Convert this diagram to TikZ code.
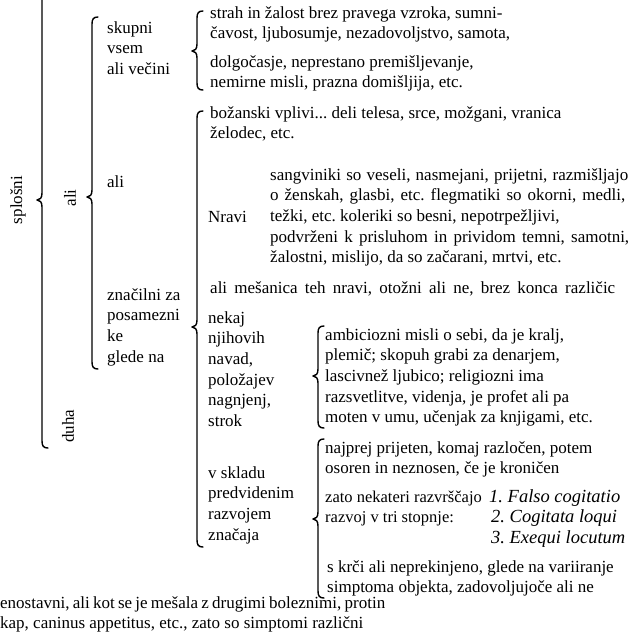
\documentclass[tikz,border=0pt]{standalone}
\usepackage{fontspec}
\setmainfont{Liberation Serif}
\frenchspacing
\newcommand\blk[1]{\vtop{\baselineskip=20.7pt\lineskiplimit=-30pt\lineskip=0pt #1}}
\newcommand\lyn[1]{\hbox{#1}}
\newcommand\lw[2]{\hbox to #1pt{\spaceskip=0.25em plus 0.6em minus 0.12em\relax #2}}
% x, top, tip, bottom
\newcommand\mybrace[4]{%
  \draw[bracestyle] (#1+6,#2) .. controls (#1+1.5,#2) and (#1,#2+2) .. (#1,#2+7)
    -- (#1,#3-7) .. controls (#1,#3-2) and (#1-2,#3) .. (#1-5,#3)
    .. controls (#1-2,#3) and (#1,#3+2) .. (#1,#3+7)
    -- (#1,#4-7) .. controls (#1,#4-2) and (#1+1.5,#4) .. (#1+6,#4);}
\tikzset{
  bracestyle/.style={line width=1.4pt, line cap=round, line join=round, black},
  txt/.style={anchor=base west, inner sep=0pt, font=\fontsize{17}{20.7}\selectfont},
  rot/.style={inner sep=0pt, rotate=90, font=\fontsize{17}{20.7}\selectfont}
}
\begin{document}
\begin{tikzpicture}[x=1pt,y=-1pt]
\useasboundingbox (0,0) rectangle (634,632);
\clip (0,0) rectangle (634,632);
% braces
\mybrace{42}{-20}{200}{448}
\mybrace{92}{17}{197}{369}
\mybrace{197}{11}{51}{90}
\mybrace{197}{111}{327}{547}
\mybrace{318}{326}{376}{428}
\mybrace{318}{439}{519}{598}
% rotated labels
\node[rot] (r1) at (18,200) {splošni};
\node[rot] (r2) at (70,198) {ali};
\node[rot] (r3) at (68,426) {duha};
% column 1
\node[txt] (s1) at (107,33) {\blk{\lyn{skupni}\lyn{vsem}\lyn{ali večini}}};
\node[txt] (s2) at (107,187) {ali};
\node[txt] (s3) at (107,300) {\blk{\lyn{značilni za}\lyn{posamezni}\lyn{ke}\lyn{glede na}}};
% column 2
\node[txt] (t1) at (210,18) {\blk{\lyn{strah in žalost brez pravega vzroka, sumni-}\lyn{čavost, ljubosumje, nezadovoljstvo, samota,}}};
\node[txt] (t2) at (210,67) {\blk{\lyn{dolgočasje, neprestano premišljevanje,}\lyn{nemirne misli, prazna domišljija, etc.}}};
\node[txt] (t3) at (210,118) {\blk{\lyn{božanski vplivi... deli telesa, srce, možgani, vranica}\lyn{želodec, etc.}}};
\node[txt] (nr) at (208,222) {Nravi};
\node[txt] (t4) at (270,180) {\blk{\lw{358}{sangviniki so veseli, nasmejani, prijetni, razmišljajo}\lw{355}{o ženskah, glasbi, etc. flegmatiki so okorni, medli,}\lyn{težki, etc. koleriki so besni, nepotrpežljivi,}\lw{359}{podvrženi k prisluhom in prividom temni, samotni,}\lyn{žalostni, mislijo, da so začarani, mrtvi, etc.}}};
\node[txt] (t5) at (210,293) {\lw{405}{ali mešanica teh nravi, otožni ali ne, brez konca različic}};
\node[txt] (t6) at (208,323) {\blk{\lyn{nekaj}\lyn{njihovih}\lyn{navad,}\lyn{položajev}\lyn{nagnjenj,}\lyn{strok}}};
\node[txt] (t7) at (208,478) {\blk{\lyn{v skladu}\lyn{predvidenim}\lyn{razvojem}\lyn{značaja}}};
% column 3
\node[txt] (u1) at (325,340) {\blk{\lyn{ambiciozni misli o sebi, da je kralj,}\lyn{plemič; skopuh grabi za denarjem,}\lyn{lascivnež ljubico; religiozni ima}\lyn{razsvetlitve, videnja, je profet ali pa}\lyn{moten v umu, učenjak za knjigami, etc.}}};
\node[txt] (u2) at (325,453) {\blk{\lyn{najprej prijeten, komaj razločen, potem}\lyn{osoren in neznosen, če je kroničen}}};
\node[txt, font=\fontsize{16.5}{20.7}\selectfont] (u3) at (325,502) {\blk{\lyn{zato nekateri razvrščajo}\lyn{razvoj v tri stopnje:}}};
\node[txt, font=\fontsize{18.5}{20.7}\selectfont\itshape] (u4) at (489,502) {\blk{\lyn{1. Falso cogitatio}\hbox{\kern2pt 2. Cogitata loqui}\hbox{\kern2pt 3. Exequi locutum}}};
\node[txt] (u5) at (327,572) {\blk{\lyn{s krči ali neprekinjeno, glede na variiranje}\lyn{simptoma objekta, zadovoljujoče ali ne}}};
% bottom
\node[txt] (b1) at (0,608) {\vtop{\baselineskip=20pt\lineskiplimit=-30pt\lw{385}{enostavni, ali kot se je mešala z drugimi boleznimi, protin}\lyn{kap, caninus appetitus, etc., zato so simptomi različni}}};
\end{tikzpicture}
\end{document}
